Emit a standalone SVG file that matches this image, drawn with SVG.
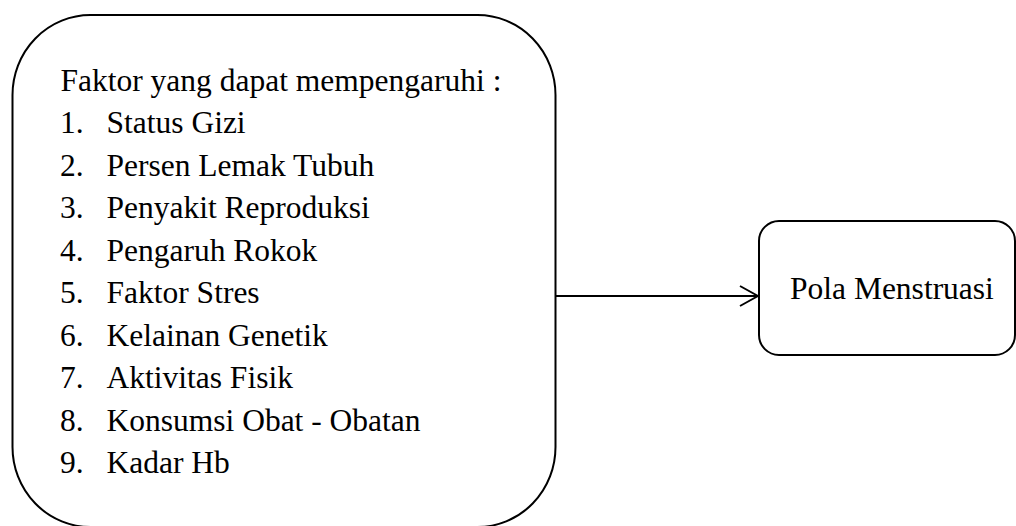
<svg xmlns="http://www.w3.org/2000/svg" width="1016" height="526" viewBox="0 0 1016 526">
<style>
.box{fill:#fff;stroke:#000;stroke-width:2}
.t{font-family:"Liberation Serif","Times New Roman",serif;font-size:31.5px;fill:#000}
.conn{stroke:#000;stroke-width:2;fill:none}
</style>
<defs>
<marker id="arr" markerWidth="20" markerHeight="24" refX="19" refY="11" orient="auto" markerUnits="userSpaceOnUse">
<path d="M1,1 L19,11 L1,21" fill="none" stroke="#000" stroke-width="2"/>
</marker>
</defs>
<rect width="1016" height="526" fill="#fff"/>
<g id="factors">
<rect class="box" x="12.5" y="15" width="543" height="512" rx="78" ry="80"/>
<text class="t" x="60.5" y="90.5">Faktor yang dapat mempengaruhi :</text>
<g class="t">
<text x="60" y="133">1.</text><text x="106.5" y="133">Status Gizi</text>
<text x="60" y="175.5">2.</text><text x="106.5" y="175.5">Persen Lemak Tubuh</text>
<text x="60" y="218">3.</text><text x="106.5" y="218">Penyakit Reproduksi</text>
<text x="60" y="260.5">4.</text><text x="106.5" y="260.5">Pengaruh Rokok</text>
<text x="60" y="303">5.</text><text x="106.5" y="303">Faktor Stres</text>
<text x="60" y="345.5">6.</text><text x="106.5" y="345.5">Kelainan Genetik</text>
<text x="60" y="388">7.</text><text x="106.5" y="388">Aktivitas Fisik</text>
<text x="60" y="430.5">8.</text><text x="106.5" y="430.5">Konsumsi Obat - Obatan</text>
<text x="60" y="473">9.</text><text x="106.5" y="473">Kadar Hb</text>
</g>
</g>
<g id="pola">
<rect class="box" x="759" y="221" width="256" height="134" rx="20" ry="20"/>
<text class="t" x="790" y="298.5">Pola Menstruasi</text>
</g>
<g id="connectors">
<line class="conn" x1="555.5" y1="296" x2="758" y2="296" marker-end="url(#arr)"/>
</g>
</svg>
